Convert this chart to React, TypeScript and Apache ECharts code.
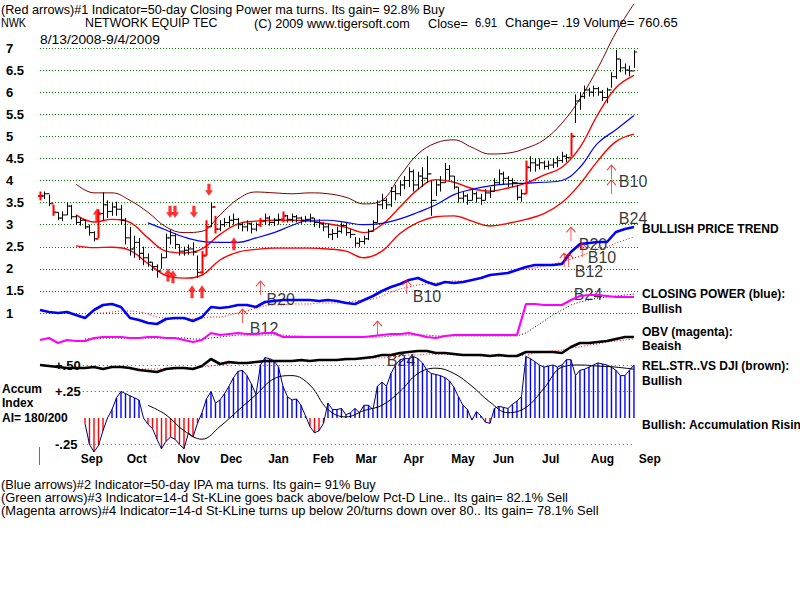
import React, { useEffect, useRef } from "react";
import * as echarts from "echarts";

// NWK – Network Equipment Technologies, 8/13/2008 - 9/4/2009 (265 trading days)
// Price bars: one bar every other trading day
const BAR_STEP = 2;
const barHigh = [
  3.75, 3.75, 3.68, 3.45, 3.28, 3.3, 3.5, 3.45, 3.22, 3.15,
  3.1, 3.0, 2.85, 3.35, 3.73, 3.55, 3.5, 3.52, 3.45, 3.15,
  2.95, 2.75, 2.7, 2.5, 2.35, 2.15, 2.1, 2.35, 2.8, 2.9,
  2.8, 2.55, 2.5, 2.55, 2.6, 2.3, 2.4, 3.1, 3.5, 3.2,
  3.1, 3.15, 3.2, 3.25, 3.15, 3.05, 3.1, 3.05, 3.05, 3.15,
  3.25, 3.2, 3.15, 3.25, 3.3, 3.22, 3.25, 3.22, 3.18, 3.2,
  3.25, 3.15, 3.12, 3.05, 3.02, 2.9, 2.95, 3.05, 3.05, 2.9,
  2.72, 2.7, 2.75, 2.9, 3.1, 3.55, 3.7, 3.6, 3.85, 3.9,
  4.0, 4.1, 4.3, 4.25, 4.2, 4.3, 4.55, 4.0, 4.0, 4.1,
  4.4, 4.35, 4.1, 3.85, 3.75, 3.7, 3.8, 3.75, 3.7, 3.8,
  3.85, 4.05, 4.25, 4.2, 4.1, 4.05, 3.9, 3.8, 4.45, 4.55,
  4.5, 4.5, 4.45, 4.45, 4.5, 4.55, 4.65, 4.6, 5.08, 5.95,
  6.0, 6.15, 6.1, 6.15, 6.12, 6.05, 6.1, 6.45, 6.96, 6.75,
  6.65, 6.6, 6.95,
];
const barLow = [
  3.55, 3.58, 3.42, 3.2, 3.1, 3.08, 3.22, 3.12, 3.0, 2.98,
  2.9, 2.75, 2.62, 2.7, 3.1, 3.15, 3.2, 3.2, 3.0, 2.55,
  2.3, 2.25, 2.2, 2.08, 2.05, 1.95, 1.8, 2.0, 2.25, 2.55,
  2.45, 2.3, 2.3, 2.32, 2.3, 1.8, 1.85, 2.3, 2.95, 2.8,
  2.85, 2.95, 2.95, 3.0, 2.9, 2.85, 2.85, 2.8, 2.85, 2.95,
  3.0, 2.98, 2.97, 3.0, 3.05, 3.05, 3.05, 3.05, 3.02, 3.05,
  3.05, 2.95, 2.92, 2.85, 2.7, 2.65, 2.7, 2.8, 2.75, 2.7,
  2.5, 2.5, 2.55, 2.65, 2.85, 3.05, 3.35, 3.35, 3.4, 3.55,
  3.65, 3.8, 3.85, 3.75, 3.8, 3.85, 3.95, 3.2, 3.65, 3.75,
  3.95, 4.0, 3.8, 3.5, 3.5, 3.45, 3.55, 3.5, 3.45, 3.55,
  3.6, 3.75, 3.9, 3.9, 3.85, 3.85, 3.55, 3.52, 3.7, 4.2,
  4.2, 4.25, 4.25, 4.25, 4.28, 4.3, 4.4, 4.42, 4.55, 5.3,
  5.6, 5.85, 5.9, 5.9, 5.92, 5.8, 5.75, 6.1, 6.3, 6.45,
  6.4, 6.36, 6.55,
];
const barClose = [
  3.65, 3.7, 3.48, 3.28, 3.15, 3.22, 3.42, 3.18, 3.05, 3.1,
  2.95, 2.82, 2.68, 3.25, 3.45, 3.3, 3.4, 3.35, 3.1, 2.7,
  2.45, 2.6, 2.35, 2.25, 2.15, 2.05, 1.95, 2.25, 2.7, 2.75,
  2.55, 2.4, 2.42, 2.45, 2.38, 1.92, 2.3, 2.95, 3.4, 2.9,
  3.0, 3.05, 3.1, 3.12, 3.0, 2.95, 3.02, 2.9, 3.0, 3.08,
  3.15, 3.05, 3.1, 3.12, 3.2, 3.12, 3.18, 3.15, 3.1, 3.12,
  3.15, 3.05, 3.02, 2.95, 2.78, 2.8, 2.85, 2.98, 2.82, 2.78,
  2.58, 2.62, 2.68, 2.85, 3.05, 3.45, 3.55, 3.45, 3.75, 3.7,
  3.9, 4.0, 4.2, 3.9, 4.1, 4.05, 4.15, 3.55, 3.9, 3.95,
  4.25, 4.1, 3.85, 3.6, 3.65, 3.55, 3.7, 3.6, 3.55, 3.72,
  3.75, 3.95, 4.15, 4.05, 4.0, 3.95, 3.62, 3.7, 4.3, 4.4,
  4.35, 4.4, 4.32, 4.35, 4.4, 4.45, 4.55, 4.52, 5.0, 5.8,
  5.9, 6.05, 6.0, 6.08, 6.0, 5.88, 6.05, 6.35, 6.75, 6.55,
  6.5, 6.48, 6.91,
];
// bars printed in red (signal days)
const signalBars = [0, 3, 13, 36, 37, 39, 49, 54, 108, 118];

// Bands and 50-day average, sampled every 8 trading days
const BAND_STEP = 8;
const upperBand = [
  null, null, 3.92, 3.72, 3.72, 3.55, 3.28, 2.95, 2.82, 2.85, 3.22, 3.58,
  3.74, 3.72, 3.7, 3.72, 3.7, 3.62, 3.47, 3.55, 4.1, 4.6, 4.85, 4.92,
  4.75, 4.6, 4.62, 4.73, 4.92, 5.3, 5.85, 6.55, 7.35, 8.0,
];
const bandMid = [
  null, null, 3.22, 3.06, 3.12, 3.05, 2.7, 2.4, 2.36, 2.45, 2.78, 3.02,
  3.08, 3.1, 3.1, 3.08, 3.02, 2.94, 2.82, 3.0, 3.4, 3.8, 4.02, 3.96,
  3.82, 3.76, 3.83, 3.94, 4.12, 4.3, 4.75, 5.5, 6.1, 6.38,
];
const lowerBand = [
  null, null, 2.52, 2.48, 2.49, 2.42, 2.12, 1.85, 1.79, 1.86, 2.2, 2.38,
  2.44, 2.47, 2.47, 2.47, 2.45, 2.4, 2.25, 2.4, 2.8, 3.05, 3.18, 3.2,
  3.08, 2.97, 3.03, 3.12, 3.25, 3.5, 3.92, 4.45, 4.88, 5.05,
];
const ma50 = [
  null, null, null, null, null, null, 3.04, 2.88, 2.72, 2.62, 2.6, 2.6,
  2.7, 2.82, 2.98, 3.1, 3.1, 3.05, 3.0, 3.03, 3.13, 3.28, 3.45, 3.68,
  3.8, 3.88, 3.92, 3.94, 3.96, 4.0, 4.3, 4.85, 5.15, 5.47,
];

// Indicator lines, sampled every 4 trading days
const IND_STEP = 4;
const closingPower = [
  2.0, 1.8, 1.7, 1.8, 1.5, 1.2, 2.0, 2.5, 2.6, 2.3,
  1.2, 1.0, 0.7, 0.6, 1.1, 1.2, 1.2, 0.9, 1.3, 2.3,
  2.2, 2.3, 2.5, 2.5, 2.3, 2.8, 2.9, 3.0, 3.0, 3.0,
  3.0, 2.9, 3.0, 2.9, 2.7, 2.6, 3.0, 3.4, 3.9, 4.3,
  4.6, 5.0, 5.2, 4.8, 4.5, 4.8, 4.7, 4.8, 5.0, 5.2,
  5.5, 5.6, 5.7, 6.0, 6.3, 6.5, 6.5, 6.5, 6.6, 7.8,
  8.6, 8.7, 8.8, 8.8, 9.8, 10.1, 10.3,
];
const closingPowerMa = [
  null, null, null, null, null, null,
  1.7, 1.7, 1.8, 1.9, 1.9, 1.8, 1.6, 1.3, 1.2, 1.1,
  1.1, 1.1, 1.2, 1.3, 1.3, 1.5, 1.7, 1.9, 2.2, 2.4,
  2.5, 2.5, 2.6, 2.6, 2.6, 2.7, 2.7, 2.7, 2.8, 2.9,
  3.0, 3.1, 3.4, 3.8, 4.1, 4.3, 4.5, 4.6, 4.7, 4.8,
  4.9, 4.9, 5.0, 5.2, 5.4, 5.6, 5.8, 6.0, 6.1, 6.2,
  6.4, 6.6, 6.8, 7.1, 7.4, 7.7, 8.0, 8.3, 8.7, 9.0, 9.3,
];
const obv = [
  1.0, 1.2, 0.7, 1.0, 0.9, 0.9, 1.2, 1.3, 1.3, 1.3,
  1.2, 1.2, 1.3, 1.3, 1.2, 1.2, 1.0, 0.8, 1.0, 1.7,
  1.5, 1.6, 1.7, 1.6, 1.6, 1.7, 1.7, 1.3, 1.3, 1.3,
  1.3, 1.3, 1.3, 1.3, 1.3, 1.3, 1.3, 1.4, 1.5, 1.6,
  1.6, 1.7, 1.5, 1.3, 1.2, 1.4, 1.5, 1.5, 1.5, 1.5,
  1.5, 1.5, 1.5, 1.5, 4.6, 4.6, 4.5, 4.5, 4.5, 5.0,
  5.4, 5.5, 5.5, 5.4, 5.3, 5.3, 5.3,
];
const obvMa = [
  null, null, null, null, null,
  1.1, 1.1, 1.2, 1.2, 1.2, 1.2, 1.2, 1.2, 1.2, 1.2, 1.2, 1.2,
  1.1, 1.1, 1.2, 1.3, 1.4,
  1.5, 1.5, 1.5, 1.5, 1.5, 1.5, 1.4, 1.4,
  1.3, 1.3, 1.3, 1.3, 1.3, 1.3, 1.3, 1.3, 1.3, 1.4,
  1.5, 1.5, 1.5, 1.5,
  1.4, 1.4, 1.4, 1.4, 1.4, 1.4, 1.4, 1.4, 1.4, 1.4,
  1.7, 2.3, 2.9, 3.5, 4.0, 4.5, 4.8, 5.0, 5.2, 5.3, 5.4, 5.5, 5.6,
];
const relStrength = [
  1.5, 1.4, 1.3, 1.2, 1.2, 1.2, 1.3, 1.1, 1.3, 1.3,
  1.2, 1.0, 0.9, 0.8, 1.1, 1.2, 1.2, 1.1, 1.4, 2.1,
  1.6, 1.8, 1.7, 1.7, 1.8, 1.9, 1.9, 1.9, 1.9, 2.0,
  1.9, 2.0, 2.0, 2.0, 2.1, 2.1, 2.2, 2.3, 2.5, 2.5,
  2.7, 2.8, 2.9, 2.9, 2.7, 2.7, 2.6, 2.5, 2.5, 2.5,
  2.4, 2.5, 2.4, 2.4, 2.8, 2.8, 2.8, 2.8, 2.7, 3.3,
  3.7, 3.7, 3.8, 3.9, 4.1, 4.3, 4.3,
];
const relStrengthMa = [
  null, null, null, null, null, null, null, null, null, null,
  1.1, 1.1, 1.1, 1.1, 1.1, 1.1,
  1.2, 1.2, 1.3, 1.4, 1.5, 1.6, 1.7, 1.7, 1.8, 1.8,
  1.8, 1.9, 1.9, 1.9, 1.9, 2.0, 2.0, 2.0, 2.0, 2.1,
  2.1, 2.2, 2.2, 2.3, 2.4, 2.5, 2.5, 2.6, 2.6, 2.6,
  2.5, 2.5, 2.5, 2.4, 2.4, 2.4, 2.4, 2.4, 2.5, 2.7,
  2.8, 2.9, 3.0, 3.2, 3.3, 3.5, 3.6, 3.8, 3.9, 4.0, 4.1,
];

// Accumulation index, every other trading day from day 20
const ACC_START = 20;
const ACC_STEP = 2;
const accumIndex = [
  -0.05, -0.25, -0.32, -0.26, -0.12, 0.0, 0.08, 0.19, 0.25, 0.23,
  0.21, 0.19, 0.17, 0.0, -0.06, -0.1, -0.2, -0.29, -0.22, -0.18,
  -0.2, -0.25, -0.29, -0.14, -0.18, -0.05, 0.05, 0.18, 0.25, 0.14,
  0.17, 0.23, 0.3, 0.38, 0.44, 0.45, 0.4, 0.32, 0.22, 0.5,
  0.57, 0.56, 0.54, 0.48, 0.3, 0.2, 0.17, 0.18, 0.12, 0.02,
  -0.08, -0.14, -0.12, -0.05, 0.14, 0.08, 0.08, 0.09, 0.03, 0.05,
  0.09, 0.05, 0.12, 0.12, 0.08, 0.3, 0.34, 0.3, 0.42, 0.5,
  0.55, 0.56, 0.56, 0.58, 0.56, 0.52, 0.45, 0.42, 0.41, 0.4,
  0.38, 0.35, 0.29, 0.2, 0.12, 0.08, -0.02, 0.06, 0.02, -0.04,
  -0.05, 0.09, 0.11, 0.1, 0.09, 0.13, 0.16, 0.2, 0.58, 0.56,
  0.53, 0.5, 0.48, 0.49, 0.5, 0.48, 0.5, 0.55, 0.55, 0.4,
  0.45, 0.46, 0.48, 0.5, 0.52, 0.51, 0.5, 0.48, 0.45, 0.4,
  0.4, 0.45, 0.5,
];
const ACC_MA_START = 48;
const ACC_MA_STEP = 8;
const accumMa = [
  0.12, 0.03, -0.12, -0.2, -0.08, 0.07, 0.22, 0.37, 0.4, 0.31,
  0.08, 0.01, 0.07, 0.12, 0.25, 0.42, 0.47, 0.42, 0.3, 0.15,
  0.05, 0.1, 0.28, 0.48, 0.5, 0.49, 0.48, 0.46,
];
const accumLevels = [0.5, 0.25, -0.25];

// Month labels (trading-day positions)
const monthNames = ["Sep", "Oct", "Nov", "Dec", "Jan", "Feb", "Mar", "Apr", "May", "Jun", "Jul", "Aug", "Sep"];
const monthTicks = [23, 43, 66, 85, 106, 126, 145, 166, 188, 206, 227, 250, 271];

// Signal arrows on price: [day, price]
const sellArrows = [[57.8, 3.29], [60, 3.29], [68.4, 3.29], [75.1, 3.79]];
const buyArrows = [[25.3, 3.22], [56.9, 1.86], [59.1, 1.82], [67.6, 1.48], [72, 1.48], [86.2, 2.57]];
// Indicator buy arrows on the closing-power scale: [day, level]
const cpArrows = [[90, 1.4], [98, 4.2], [150, 0.2], [163, 4.3], [233, 7.0], [235, 7.0], [236, 9.6], [241, 8.0], [254, 15.8], [254, 14.3]];
const cpLabels: [string, number, number][] = [
  ["B12", 99.6, 0.2], ["B20", 107, 3.1], ["B10", 172, 3.4], ["B24", 263.6, 11.2],
  ["B20", 245.8, 8.6], ["B10", 249.8, 7.3], ["B12", 244, 5.9], ["B10", 263.6, 14.9],
  ["B24", 243.6, 3.6], ["B24", 160.4, -3.0],
];

const SANS = '"Liberation Sans", Arial, sans-serif';
const X_MAX = 265.8;

const pts = (arr: (number | null)[], step: number, start = 0) =>
  arr.map((v, k) => [start + k * step, v]).filter((p) => p[1] !== null);

// width of a string in the condensed header face
const measureCtx = typeof document !== "undefined" ? document.createElement("canvas").getContext("2d") : null;
const textWidth = (text: string, size: number) => {
  if (!measureCtx) return text.length * size * 0.5;
  measureCtx.font = `${size}px "Liberation Sans", Arial, sans-serif`;
  return measureCtx.measureText(text).width;
};

function buildOption() {
  const bars = barClose.map((c, k) => [
    k * BAR_STEP, barLow[k], barHigh[k], c, k > 0 ? barClose[k - 1] : c, signalBars.includes(k) ? 1 : 0,
  ]);

  const line = (data: any[], grid: number, color: string, width: number, dotted = false, smooth: any = false, z = 2) => ({
    type: "line", data, xAxisIndex: grid, yAxisIndex: grid, symbol: "none", showSymbol: false,
    smooth, clip: false, z, silent: true,
    lineStyle: { color, width, type: dotted ? [1, 2] : "solid" },
  });

  const grids = [
    { left: 40, top: 48, width: 598, height: 265 },
    { left: 40, top: 150, width: 598, height: 230 },
    { left: 40, top: 280, width: 598, height: 70 },
    { left: 40, top: 330, width: 598, height: 50 },
    { left: 40, top: 338.5, width: 598, height: 132.5 },
    { left: 40, top: 450, width: 630, height: 1 },
  ].map((g) => ({ ...g, outerBoundsMode: "none" }));

  const hiddenX = (g: number) => ({ type: "value", gridIndex: g, min: 0, max: X_MAX, show: false });

  const txt = (text: string, x: number, y: number, size: number, weight = "normal") => ({
    type: "text", x, y, silent: true,
    style: { text, fill: "#000", fontSize: size, fontWeight: weight, fontFamily: SANS, verticalAlign: "middle", align: "left" },
  });
  // condensed caption text squeezed to a given width
  const narrow = (text: string, x: number, y: number, width: number, size = 13) => ({
    type: "text", x, y, silent: true, scaleX: width / textWidth(text, size),
    style: { text, fill: "#000", fontSize: size, fontFamily: SANS, verticalAlign: "middle", align: "left" },
  });

  return {
    animation: false,
    backgroundColor: "#ffffff",
    grid: grids,
    xAxis: [
      hiddenX(0), hiddenX(1), hiddenX(2), hiddenX(3), hiddenX(4),
      {
        type: "value", gridIndex: 5, min: 0, max: 280,
        axisLine: { show: false }, axisTick: { show: false }, splitLine: { show: false },
        axisLabel: {
          customValues: monthTicks, margin: 2, color: "#000", fontSize: 12, fontWeight: "bold", fontFamily: SANS,
          formatter: (v: number) => monthNames[monthTicks.indexOf(v)] ?? "",
        },
      },
    ],
    yAxis: [
      {
        type: "value", gridIndex: 0, min: 1, max: 7, interval: 0.5,
        axisLine: { show: false }, axisTick: { show: false },
        splitLine: { show: true, lineStyle: { color: "#008000", type: [1, 2], width: 1 } },
        axisLabel: { align: "left", margin: 34, color: "#000", fontSize: 13, fontWeight: "bold", fontFamily: SANS, formatter: (v: number) => String(v) },
      },
      { type: "value", gridIndex: 1, min: -5, max: 18, show: false },
      { type: "value", gridIndex: 2, min: 0, max: 7, show: false },
      { type: "value", gridIndex: 3, min: 0, max: 5, show: false },
      {
        type: "value", gridIndex: 4, min: -0.5, max: 0.75,
        axisLine: { show: false }, axisTick: { show: false }, splitLine: { show: false },
        axisLabel: {
          inside: true, margin: 15, customValues: accumLevels, color: "#000", fontSize: 13, fontWeight: "bold", fontFamily: SANS,
          formatter: (v: number) => (v > 0 ? "+" : "-") + Math.abs(v).toFixed(2).replace(/^0/, ""),
        },
      },
      { type: "value", gridIndex: 5, show: false },
    ],
    series: [
      // bands and averages
      line(pts(upperBand, BAND_STEP), 0, "#800000", 1, false, 0.4),
      line(pts(bandMid, BAND_STEP), 0, "#ff0000", 1.4, false, 0.4),
      line(pts(lowerBand, BAND_STEP), 0, "#ff0000", 1.4, false, 0.4),
      line(pts(ma50, BAND_STEP), 0, "#0000ff", 1.2, false, 0.4),
      // price bars
      {
        type: "custom", xAxisIndex: 0, yAxisIndex: 0, data: bars, z: 3, silent: true,
        renderItem: (_p: any, api: any) => {
          const d = api.value(0);
          const hi = api.coord([d, api.value(2)]);
          const lo = api.coord([d, api.value(1)]);
          const cl = api.coord([d, api.value(3)]);
          const op = api.coord([d, api.value(4)]);
          const sig = api.value(5) === 1;
          const x = Math.round(hi[0]) + 0.5;
          const st = { stroke: sig ? "#ff0000" : "#000000", lineWidth: sig ? 2 : 1 };
          return {
            type: "group",
            children: [
              { type: "line", shape: { x1: x, y1: hi[1], x2: x, y2: lo[1] }, style: st },
              { type: "line", shape: { x1: x, y1: cl[1], x2: x + 2.5, y2: cl[1] }, style: st },
              { type: "line", shape: { x1: x - 2.5, y1: op[1], x2: x, y2: op[1] }, style: st },
            ],
          };
        },
      },
      // red sell / buy arrows on price
      {
        type: "scatter", xAxisIndex: 0, yAxisIndex: 0, data: sellArrows, z: 4, silent: true, clip: false,
        symbol: "path://M3,0 L7,0 L7,7 L10,7 L5,13 L0,7 L3,7 Z", symbolSize: [8, 12],
        itemStyle: { color: "#ff0000" },
      },
      {
        type: "scatter", xAxisIndex: 0, yAxisIndex: 0, data: buyArrows, z: 4, silent: true, clip: false,
        symbol: "path://M5,0 L10,6 L7,6 L7,13 L3,13 L3,6 L0,6 Z", symbolSize: [8, 13],
        itemStyle: { color: "#ff0000" },
      },
      // closing power
      line(pts(closingPowerMa, IND_STEP), 1, "#ff0000", 1, true, 0.3),
      line(pts(closingPower, IND_STEP), 1, "#0000ff", 2.6),
      {
        type: "scatter", xAxisIndex: 1, yAxisIndex: 1, data: cpArrows, z: 5, silent: true, clip: false,
        symbol: "path://M5,0 L0,6 M5,0 L10,6 M5,0 L5,16", symbolSize: [9, 14],
        itemStyle: { color: "none", borderColor: "#ff0000", borderWidth: 1 },
      },
      {
        type: "scatter", xAxisIndex: 1, yAxisIndex: 1, z: 1, silent: true, clip: false,
        data: cpLabels.map(([name, d, v]) => ({ name, value: [d, v] })),
        symbolSize: 1, itemStyle: { color: "rgba(0,0,0,0)" },
        label: { show: true, position: "inside", formatter: "{b}", color: "#000", fontSize: 16, fontFamily: SANS },
      },
      // OBV
      line(pts(obvMa, IND_STEP), 2, "#000000", 1, true),
      line(pts(obv, IND_STEP), 2, "#ff00ff", 2.2),
      // relative strength
      line(pts(relStrengthMa, IND_STEP), 3, "#ff0000", 1, true, 0.3),
      line(pts(relStrength, IND_STEP), 3, "#000000", 2.6),
      // accumulation index
      {
        type: "bar", xAxisIndex: 4, yAxisIndex: 4, z: 2, silent: true,
        data: pts(accumIndex, ACC_STEP, ACC_START), barWidth: 1.4,
        itemStyle: { color: (p: any) => (p.value[1] >= 0 ? "#0000ff" : "#ff0000") },
        markLine: {
          silent: true, symbol: "none", label: { show: false },
          lineStyle: { type: [1, 3], color: "#555555", width: 1 },
          data: accumLevels.map((v) => [{ coord: [ACC_START - 1, v] }, { coord: [264, v] }]),
        },
      },
      line(pts(accumIndex, ACC_STEP, ACC_START), 4, "#000070", 1, false, false, 3),
      line(pts(accumMa, ACC_MA_STEP, ACC_MA_START), 4, "#000000", 1, false, 0.4, 4),
    ],
    graphic: [
      narrow("(Red arrows)#1 Indicator=50-day Closing Power ma turns. Its gain= 92.8% Buy", 1, 9, 444),
      narrow("NWK", 1, 23, 25),
      narrow("NETWORK EQUIP TEC", 85, 23, 133),
      narrow("(C) 2009 www.tigersoft.com", 254, 23, 156),
      narrow("Close=", 428, 23, 40),
      narrow("6.91", 475, 23, 22),
      narrow("Change= .19 Volume= 760.65", 505, 23, 173),
      narrow("8/13/2008-9/4/2009", 40, 40, 120),
      txt("BULLISH PRICE TREND", 642, 229, 12, "bold"),
      txt("CLOSING POWER (blue):", 642, 294, 12, "bold"),
      txt("Bullish", 642, 309, 12, "bold"),
      txt("OBV (magenta):", 642, 332, 12, "bold"),
      txt("Beaish", 642, 346, 12, "bold"),
      txt("REL.STR..VS DJI (brown):", 642, 366, 12, "bold"),
      txt("Bullish", 642, 381, 12, "bold"),
      txt("Bullish: Accumulation Rising", 642, 425, 12, "bold"),
      txt("Accum", 2, 389, 12, "bold"),
      txt("Index", 2, 403, 12, "bold"),
      txt("AI= 180/200", 2, 418, 12, "bold"),
      {
        type: "line", silent: true, shape: { x1: 39.5, y1: 447, x2: 39.5, y2: 465 },
        style: { stroke: "#808000", lineWidth: 1 },
      },
      narrow("(Blue arrows)#2 Indicator=50-day IPA ma turns. Its gain= 91% Buy", 1, 485, 376, 12),
      narrow("(Green arrows)#3 Indicator=14-d St-KLine goes back above/below Pct-D Line.. Its gain= 82.1% Sell", 1, 498, 568, 12),
      narrow("(Magenta arrows)#4 Indicator=14-d St-KLine turns up below 20/turns down over 80.. Its gain= 78.1% Sell", 1, 511, 598, 12),
    ],
  };
}

export default function App() {
  const ref = useRef<HTMLDivElement>(null);
  useEffect(() => {
    document.body.style.margin = "0";
    if (!ref.current) return;
    const chart = echarts.init(ref.current, null, { renderer: "svg" });
    chart.setOption(buildOption() as any);
    return () => chart.dispose();
  }, []);
  return <div ref={ref} style={{ width: 800, height: 600, position: "absolute", left: 0, top: 0 }} />;
}
